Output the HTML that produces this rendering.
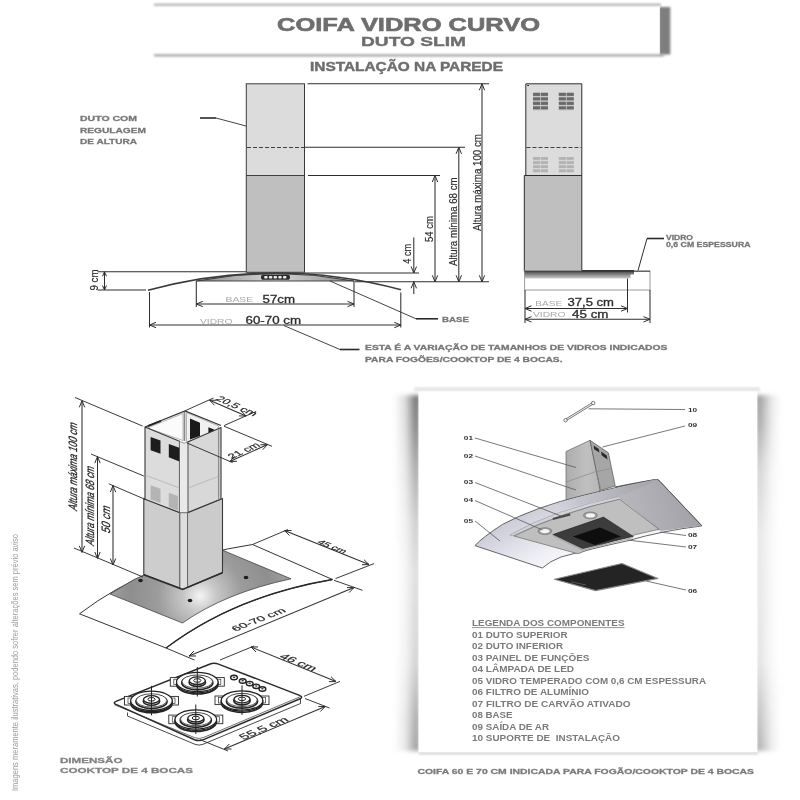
<!DOCTYPE html>
<html lang="pt-BR"><head><meta charset="utf-8"><title>Coifa Vidro Curvo - Duto Slim</title>
<style>
html,body{margin:0;padding:0;background:#fff;}
body{width:800px;height:800px;overflow:hidden;}
svg{display:block;will-change:transform;font-family:"Liberation Sans",Arial,Helvetica,sans-serif;}
</style></head><body>
<svg width="800" height="800" viewBox="0 0 800 800">
<defs>
<filter id="blur2" x="-20%" y="-20%" width="140%" height="140%"><feGaussianBlur stdDeviation="2"/></filter>
<filter id="blur1" x="-20%" y="-20%" width="140%" height="140%"><feGaussianBlur stdDeviation="1"/></filter>
<filter id="blur3" x="-30%" y="-30%" width="160%" height="160%"><feGaussianBlur stdDeviation="3"/></filter>
<filter id="soft2" filterUnits="userSpaceOnUse" x="0" y="0" width="800" height="800"><feGaussianBlur stdDeviation="0.8"/></filter>
<filter id="soft" x="-5%" y="-5%" width="110%" height="110%"><feGaussianBlur stdDeviation="0.35"/></filter>
<linearGradient id="gLeftSh" x1="0" y1="0" x2="0" y2="1"><stop offset="0" stop-color="#636363"/><stop offset="0.08" stop-color="#747474"/><stop offset="0.2" stop-color="#9e9e9e"/><stop offset="0.35" stop-color="#c6c6c6"/><stop offset="0.5" stop-color="#dadada"/><stop offset="0.75" stop-color="#cecece"/><stop offset="0.9" stop-color="#a6a6a6"/><stop offset="1" stop-color="#969696"/></linearGradient>
<linearGradient id="gBase" x1="0" y1="0" x2="1" y2="0"><stop offset="0" stop-color="#8c8c8c"/><stop offset="0.5" stop-color="#d6d6d6"/><stop offset="1" stop-color="#8c8c8c"/></linearGradient>
<linearGradient id="gBand" x1="0" y1="0" x2="0" y2="1"><stop offset="0" stop-color="#444"/><stop offset="0.5" stop-color="#8a8a8a"/><stop offset="1" stop-color="#cfcfcf"/></linearGradient>
<radialGradient id="gIsoBase" gradientUnits="userSpaceOnUse" cx="200" cy="596" r="100"><stop offset="0" stop-color="#f4f4f4"/><stop offset="0.16" stop-color="#c8c8c8"/><stop offset="0.42" stop-color="#9c9c9c"/><stop offset="0.7" stop-color="#8e8e8e"/><stop offset="1" stop-color="#a8a8a8"/></radialGradient>
<linearGradient id="gGlassL" gradientUnits="userSpaceOnUse" x1="520" y1="505" x2="555" y2="568"><stop offset="0" stop-color="#c6c6d2"/><stop offset="0.35" stop-color="#d9d9e4"/><stop offset="0.75" stop-color="#efeff5"/><stop offset="1" stop-color="#f6f6fa"/></linearGradient>
<linearGradient id="gStrip" gradientUnits="userSpaceOnUse" x1="540" y1="0" x2="650" y2="0"><stop offset="0" stop-color="#d4d4df" stop-opacity="0"/><stop offset="0.35" stop-color="#c4c4ce"/><stop offset="0.75" stop-color="#b0b0b7"/><stop offset="1" stop-color="#a6a6ac"/></linearGradient>
<linearGradient id="gGlassR" gradientUnits="userSpaceOnUse" x1="690" y1="505" x2="625" y2="525"><stop offset="0" stop-color="#a3a3a9"/><stop offset="1" stop-color="#b8b8be"/></linearGradient>
<linearGradient id="gDuctL" gradientUnits="userSpaceOnUse" x1="566" y1="0" x2="600" y2="0"><stop offset="0" stop-color="#adadad"/><stop offset="0.6" stop-color="#c0c0c0"/><stop offset="1" stop-color="#b6b6b6"/></linearGradient>
<linearGradient id="gH" gradientUnits="userSpaceOnUse" x1="394" y1="0" x2="419" y2="0"><stop offset="0" stop-color="#000"/><stop offset="0.45" stop-color="#3a3a3a"/><stop offset="0.8" stop-color="#c0c0c0"/><stop offset="1" stop-color="#fff"/></linearGradient>
<mask id="mL" maskUnits="userSpaceOnUse" x="390" y="380" width="40" height="380"><rect x="394" y="385" width="26" height="370" fill="url(#gH)"/></mask>
<linearGradient id="gBotSh" x1="0" y1="0" x2="0" y2="1"><stop offset="0" stop-color="#bdbdbd"/><stop offset="1" stop-color="#ffffff"/></linearGradient>
<linearGradient id="gRightSh" x1="0" y1="0" x2="0" y2="1"><stop offset="0" stop-color="#959595"/><stop offset="0.08" stop-color="#a4a4a4"/><stop offset="0.2" stop-color="#cecece"/><stop offset="0.4" stop-color="#e6e6e6"/><stop offset="0.75" stop-color="#e2e2e2"/><stop offset="0.9" stop-color="#bebebe"/><stop offset="1" stop-color="#adadad"/></linearGradient>
<linearGradient id="gHR" gradientUnits="userSpaceOnUse" x1="757" y1="0" x2="781" y2="0"><stop offset="0" stop-color="#fff"/><stop offset="0.25" stop-color="#b0b0b0"/><stop offset="0.6" stop-color="#383838"/><stop offset="1" stop-color="#000"/></linearGradient>
<mask id="mR" maskUnits="userSpaceOnUse" x="750" y="380" width="40" height="380"><rect x="756" y="385" width="25" height="370" fill="url(#gHR)"/></mask>
</defs>
<rect width="800" height="800" fill="#fff"/>
<rect x="659" y="7" width="11.3" height="47.5" fill="#7e7e7e" filter="url(#blur1)"/>
<rect x="150" y="5" width="509.8" height="50" fill="#fff"/>
<rect x="154" y="3.8" width="507" height="1.8" fill="#a0a0a0" filter="url(#soft2)"/>
<rect x="154" y="54.4" width="510" height="2" fill="#989898" filter="url(#soft2)"/>
<text x="277" y="30.5" font-size="18" fill="#6e6e6e" font-weight="bold" stroke="#6e6e6e" stroke-width="0.6" textLength="263" lengthAdjust="spacingAndGlyphs" >COIFA VIDRO CURVO</text>
<text x="361" y="45.5" font-size="13" fill="#6e6e6e" font-weight="bold" stroke="#6e6e6e" stroke-width="0.4" textLength="105" lengthAdjust="spacingAndGlyphs" >DUTO SLIM</text>
<text x="310" y="70.5" font-size="12" fill="#6e6e6e" font-weight="bold" stroke="#6e6e6e" stroke-width="0.4" textLength="193" lengthAdjust="spacingAndGlyphs" >INSTALAÇÃO NA PAREDE</text>
<rect x="246.3" y="83.8" width="58.2" height="92" fill="#dcdcdc"/>
<rect x="246.3" y="175.5" width="58.2" height="97" fill="#bfbfbf"/>
<rect x="246.3" y="83.8" width="58.2" height="188.5" fill="none" stroke="#3a3a3a" stroke-width="1"/>
<line x1="246.3" y1="175.5" x2="304.5" y2="175.5" stroke="#2e2e2e" stroke-width="0.9" />
<line x1="247" y1="147.5" x2="304" y2="147.5" stroke="#2e2e2e" stroke-width="0.9" stroke-dasharray="4 2"/>
<line x1="307.5" y1="83.8" x2="489" y2="83.8" stroke="#2e2e2e" stroke-width="1.05" />
<line x1="304.5" y1="147.3" x2="465" y2="147.3" stroke="#2e2e2e" stroke-width="1.05" />
<line x1="308" y1="175.5" x2="440" y2="175.5" stroke="#2e2e2e" stroke-width="1.05" />
<line x1="304.5" y1="273" x2="419" y2="273" stroke="#2e2e2e" stroke-width="1.05" />
<line x1="355" y1="281.8" x2="489" y2="281.8" stroke="#2e2e2e" stroke-width="1.05" />
<line x1="482" y1="83.8" x2="482" y2="281.8" stroke="#2e2e2e" stroke-width="1.05" />
<polyline points="484.7,90.3 482,83.8 479.3,90.3" fill="none" stroke="#2e2e2e" stroke-width="1.0" />
<polyline points="479.3,275.3 482,281.8 484.7,275.3" fill="none" stroke="#2e2e2e" stroke-width="1.0" />
<line x1="458.8" y1="147.3" x2="458.8" y2="281.8" stroke="#2e2e2e" stroke-width="1.05" />
<polyline points="461.5,153.8 458.8,147.3 456.1,153.8" fill="none" stroke="#2e2e2e" stroke-width="1.0" />
<polyline points="456.1,275.3 458.8,281.8 461.5,275.3" fill="none" stroke="#2e2e2e" stroke-width="1.0" />
<line x1="435" y1="175.5" x2="435" y2="281.8" stroke="#2e2e2e" stroke-width="1.05" />
<polyline points="437.7,182.0 435,175.5 432.3,182.0" fill="none" stroke="#2e2e2e" stroke-width="1.0" />
<polyline points="432.3,275.3 435,281.8 437.7,275.3" fill="none" stroke="#2e2e2e" stroke-width="1.0" />
<line x1="413.8" y1="237.5" x2="413.8" y2="273" stroke="#2e2e2e" stroke-width="1.05" />
<polyline points="411.1,266.5 413.8,273 416.5,266.5" fill="none" stroke="#2e2e2e" stroke-width="1.0" />
<line x1="413.8" y1="281.8" x2="413.8" y2="294" stroke="#2e2e2e" stroke-width="1.05" />
<polyline points="416.5,288.3 413.8,281.8 411.1,288.3" fill="none" stroke="#2e2e2e" stroke-width="1.0" />
<text x="480.5" y="231" font-size="11" fill="#2e2e2e" textLength="97" lengthAdjust="spacingAndGlyphs" transform="rotate(-90 480.5 231)" stroke="#2e2e2e" stroke-width="0.2">Altura máxima 100 cm</text>
<text x="456.5" y="266" font-size="11" fill="#2e2e2e" textLength="88.5" lengthAdjust="spacingAndGlyphs" transform="rotate(-90 456.5 266)" stroke="#2e2e2e" stroke-width="0.2">Altura mínima 68 cm</text>
<text x="433" y="242" font-size="11" fill="#2e2e2e" textLength="26" lengthAdjust="spacingAndGlyphs" transform="rotate(-90 433 242)" stroke="#2e2e2e" stroke-width="0.2">54 cm</text>
<text x="411" y="263.8" font-size="11" fill="#2e2e2e" textLength="20" lengthAdjust="spacingAndGlyphs" transform="rotate(-90 411 263.8)" stroke="#2e2e2e" stroke-width="0.2">4 cm</text>
<text x="80" y="121" font-size="8" fill="#777" font-weight="bold" stroke="#777" stroke-width="0.28" textLength="57" lengthAdjust="spacingAndGlyphs" >DUTO COM</text>
<text x="80" y="132.7" font-size="8" fill="#777" font-weight="bold" stroke="#777" stroke-width="0.28" textLength="66" lengthAdjust="spacingAndGlyphs" >REGULAGEM</text>
<text x="80" y="144.3" font-size="8" fill="#777" font-weight="bold" stroke="#777" stroke-width="0.28" textLength="57" lengthAdjust="spacingAndGlyphs" >DE ALTURA</text>
<line x1="200" y1="118" x2="216" y2="118" stroke="#2a2a2a" stroke-width="1.6" />
<line x1="216" y1="118" x2="246" y2="126" stroke="#2e2e2e" stroke-width="0.9" />
<line x1="97.5" y1="271.8" x2="246" y2="271.8" stroke="#2e2e2e" stroke-width="1.05" />
<line x1="97.5" y1="290" x2="146" y2="290" stroke="#2e2e2e" stroke-width="1.05" />
<line x1="104.5" y1="272" x2="104.5" y2="290" stroke="#2e2e2e" stroke-width="1.05" />
<polyline points="106.5,276.3 104.5,271.8 102.5,276.3" fill="none" stroke="#2e2e2e" stroke-width="1.0" />
<polyline points="102.5,285.5 104.5,290 106.5,285.5" fill="none" stroke="#2e2e2e" stroke-width="1.0" />
<text x="97.5" y="290.5" font-size="11.5" fill="#2e2e2e" textLength="21" lengthAdjust="spacingAndGlyphs" transform="rotate(-90 97.5 290.5)" stroke="#2e2e2e" stroke-width="0.2">9 cm</text>
<path d="M196.3,281 Q275,266 354,281 Z" fill="url(#gBase)" stroke="#333" stroke-width="0.9" />
<rect x="261" y="274.6" width="29" height="5.2" rx="2.6" fill="#2b2b2b"/>
<rect x="264.2" y="275.9" width="3.4" height="2.6" rx="0.8" fill="#e8e8e8"/>
<rect x="268.9" y="275.9" width="3.4" height="2.6" rx="0.8" fill="#e8e8e8"/>
<rect x="273.59999999999997" y="275.9" width="3.4" height="2.6" rx="0.8" fill="#e8e8e8"/>
<rect x="278.3" y="275.9" width="3.4" height="2.6" rx="0.8" fill="#e8e8e8"/>
<rect x="283.0" y="275.9" width="3.4" height="2.6" rx="0.8" fill="#e8e8e8"/>
<path d="M148,290.3 Q275,256 401,289.8" fill="none" stroke="#3a3a3a" stroke-width="1.7" />
<line x1="196.3" y1="281" x2="196.3" y2="307" stroke="#2e2e2e" stroke-width="1.05" />
<line x1="354" y1="281" x2="354" y2="307" stroke="#2e2e2e" stroke-width="1.05" />
<line x1="196.3" y1="304" x2="354" y2="304" stroke="#2e2e2e" stroke-width="1.05" />
<polyline points="202.8,301.3 196.3,304 202.8,306.7" fill="none" stroke="#2e2e2e" stroke-width="1.0" />
<polyline points="347.5,306.7 354,304 347.5,301.3" fill="none" stroke="#2e2e2e" stroke-width="1.0" />
<text x="225.5" y="302.3" font-size="8" fill="#a8a8a8" textLength="27.5" lengthAdjust="spacingAndGlyphs" >BASE</text>
<text x="262.5" y="303" font-size="10.5" fill="#2c2c2c" textLength="32.5" lengthAdjust="spacingAndGlyphs" stroke="#2c2c2c" stroke-width="0.3">57cm</text>
<line x1="149.5" y1="292" x2="149.5" y2="327.5" stroke="#2e2e2e" stroke-width="1.05" />
<line x1="400.8" y1="292.5" x2="400.8" y2="327.5" stroke="#2e2e2e" stroke-width="1.05" />
<line x1="149.5" y1="325" x2="400.8" y2="325" stroke="#2e2e2e" stroke-width="1.05" />
<polyline points="156.0,322.3 149.5,325 156.0,327.7" fill="none" stroke="#2e2e2e" stroke-width="1.0" />
<polyline points="394.3,327.7 400.8,325 394.3,322.3" fill="none" stroke="#2e2e2e" stroke-width="1.0" />
<text x="200" y="323.5" font-size="8" fill="#a8a8a8" textLength="32.5" lengthAdjust="spacingAndGlyphs" >VIDRO</text>
<text x="245.5" y="323.5" font-size="10.5" fill="#2c2c2c" textLength="55.5" lengthAdjust="spacingAndGlyphs" stroke="#2c2c2c" stroke-width="0.3">60-70 cm</text>
<line x1="283.8" y1="325.5" x2="340" y2="349.5" stroke="#2e2e2e" stroke-width="0.9" />
<line x1="340" y1="349.5" x2="359.5" y2="349.5" stroke="#2a2a2a" stroke-width="1.6" />
<text x="365" y="350.3" font-size="7.5" fill="#777" font-weight="bold" stroke="#777" stroke-width="0.28" textLength="302.5" lengthAdjust="spacingAndGlyphs" >ESTA É A VARIAÇÃO DE TAMANHOS DE VIDROS INDICADOS</text>
<text x="365" y="362" font-size="7.5" fill="#777" font-weight="bold" stroke="#777" stroke-width="0.28" textLength="197.5" lengthAdjust="spacingAndGlyphs" >PARA FOGÕES/COOKTOP DE 4 BOCAS.</text>
<polyline points="330,281 416,318.8" fill="none" stroke="#2e2e2e" stroke-width="0.9" />
<line x1="416" y1="318.8" x2="438" y2="318.8" stroke="#2a2a2a" stroke-width="1.6" />
<text x="442" y="321.8" font-size="8" fill="#777" font-weight="bold" stroke="#777" stroke-width="0.28" textLength="27" lengthAdjust="spacingAndGlyphs" >BASE</text>
<rect x="525.8" y="83.8" width="56" height="92" fill="#dcdcdc"/>
<rect x="524.3" y="175.5" width="57.5" height="96" fill="#bfbfbf"/>
<polyline points="525.8,175.5 525.8,83.8 581.8,83.8 581.8,271.5" fill="none" stroke="#2e2e2e" stroke-width="1" />
<polyline points="581.8,175.5 524.3,175.5 524.3,271.5" fill="none" stroke="#2e2e2e" stroke-width="1" />
<line x1="526.5" y1="147.5" x2="581.5" y2="147.5" stroke="#2e2e2e" stroke-width="0.9" stroke-dasharray="4 2"/>
<rect x="527.2" y="85" width="1.8" height="1" fill="#222"/>
<rect x="533" y="92.5" width="15" height="18" fill="#c9c9c9"/>
<rect x="533" y="92.8" width="7.1" height="3.1" fill="#6a6a6a"/>
<rect x="540.9" y="92.8" width="7.1" height="3.1" fill="#6a6a6a"/>
<rect x="533" y="97.3" width="7.1" height="3.1" fill="#6a6a6a"/>
<rect x="540.9" y="97.3" width="7.1" height="3.1" fill="#6a6a6a"/>
<rect x="533" y="101.8" width="7.1" height="3.1" fill="#6a6a6a"/>
<rect x="540.9" y="101.8" width="7.1" height="3.1" fill="#6a6a6a"/>
<rect x="533" y="106.3" width="7.1" height="3.1" fill="#6a6a6a"/>
<rect x="540.9" y="106.3" width="7.1" height="3.1" fill="#6a6a6a"/>
<rect x="558.8" y="92.5" width="15" height="18" fill="#c9c9c9"/>
<rect x="558.8" y="92.8" width="7.1" height="3.1" fill="#6a6a6a"/>
<rect x="566.7" y="92.8" width="7.1" height="3.1" fill="#6a6a6a"/>
<rect x="558.8" y="97.3" width="7.1" height="3.1" fill="#6a6a6a"/>
<rect x="566.7" y="97.3" width="7.1" height="3.1" fill="#6a6a6a"/>
<rect x="558.8" y="101.8" width="7.1" height="3.1" fill="#6a6a6a"/>
<rect x="566.7" y="101.8" width="7.1" height="3.1" fill="#6a6a6a"/>
<rect x="558.8" y="106.3" width="7.1" height="3.1" fill="#6a6a6a"/>
<rect x="566.7" y="106.3" width="7.1" height="3.1" fill="#6a6a6a"/>
<rect x="533" y="156.8" width="15" height="16.4" fill="#d6d6d6"/>
<rect x="533" y="157.1" width="7.1" height="2.7" fill="#b2b2b2"/>
<rect x="540.9" y="157.1" width="7.1" height="2.7" fill="#b2b2b2"/>
<rect x="533" y="161.2" width="7.1" height="2.7" fill="#b2b2b2"/>
<rect x="540.9" y="161.2" width="7.1" height="2.7" fill="#b2b2b2"/>
<rect x="533" y="165.3" width="7.1" height="2.7" fill="#b2b2b2"/>
<rect x="540.9" y="165.3" width="7.1" height="2.7" fill="#b2b2b2"/>
<rect x="533" y="169.4" width="7.1" height="2.7" fill="#b2b2b2"/>
<rect x="540.9" y="169.4" width="7.1" height="2.7" fill="#b2b2b2"/>
<rect x="558.8" y="156.8" width="15" height="16.4" fill="#d6d6d6"/>
<rect x="558.8" y="157.1" width="7.1" height="2.7" fill="#b2b2b2"/>
<rect x="566.7" y="157.1" width="7.1" height="2.7" fill="#b2b2b2"/>
<rect x="558.8" y="161.2" width="7.1" height="2.7" fill="#b2b2b2"/>
<rect x="566.7" y="161.2" width="7.1" height="2.7" fill="#b2b2b2"/>
<rect x="558.8" y="165.3" width="7.1" height="2.7" fill="#b2b2b2"/>
<rect x="566.7" y="165.3" width="7.1" height="2.7" fill="#b2b2b2"/>
<rect x="558.8" y="169.4" width="7.1" height="2.7" fill="#b2b2b2"/>
<rect x="566.7" y="169.4" width="7.1" height="2.7" fill="#b2b2b2"/>
<rect x="524.6" y="271" width="125.4" height="19" fill="#fff" stroke="#9a9a9a" stroke-width="1"/>
<path d="M524.6,271 H634 V274.5 H630.5 V278.6 H524.6 Z" fill="url(#gBand)" stroke="none" stroke-width="0.8" />
<line x1="524.6" y1="271.2" x2="650" y2="271.2" stroke="#444" stroke-width="1.1" />
<line x1="582" y1="270.8" x2="634" y2="270.8" stroke="#333" stroke-width="1.6" />
<line x1="525" y1="290" x2="525" y2="323" stroke="#2e2e2e" stroke-width="1.05" />
<line x1="627.5" y1="278.6" x2="627.5" y2="312.5" stroke="#2e2e2e" stroke-width="1.05" />
<line x1="650" y1="290" x2="650" y2="323" stroke="#2e2e2e" stroke-width="1.05" />
<line x1="525" y1="308.5" x2="627.5" y2="308.5" stroke="#2e2e2e" stroke-width="1.05" />
<polyline points="531.5,305.8 525,308.5 531.5,311.2" fill="none" stroke="#2e2e2e" stroke-width="1.0" />
<polyline points="621.0,311.2 627.5,308.5 621.0,305.8" fill="none" stroke="#2e2e2e" stroke-width="1.0" />
<line x1="525" y1="319.3" x2="650" y2="319.3" stroke="#2e2e2e" stroke-width="1.05" />
<polyline points="531.5,316.6 525,319.3 531.5,322.0" fill="none" stroke="#2e2e2e" stroke-width="1.0" />
<polyline points="643.5,322.0 650,319.3 643.5,316.6" fill="none" stroke="#2e2e2e" stroke-width="1.0" />
<text x="535.3" y="305.5" font-size="8" fill="#a8a8a8" textLength="27" lengthAdjust="spacingAndGlyphs" >BASE</text>
<text x="567.5" y="305.8" font-size="10.5" fill="#2c2c2c" textLength="46.5" lengthAdjust="spacingAndGlyphs" stroke="#2c2c2c" stroke-width="0.3">37,5 cm</text>
<text x="533" y="317.3" font-size="8" fill="#a8a8a8" textLength="32.5" lengthAdjust="spacingAndGlyphs" >VIDRO</text>
<text x="572" y="317.6" font-size="10.5" fill="#2c2c2c" textLength="36.5" lengthAdjust="spacingAndGlyphs" stroke="#2c2c2c" stroke-width="0.3">45 cm</text>
<line x1="647" y1="238.5" x2="664" y2="238.5" stroke="#2a2a2a" stroke-width="1.6" />
<line x1="647" y1="238.5" x2="638" y2="270.5" stroke="#2e2e2e" stroke-width="1" />
<text x="666" y="239.6" font-size="7" fill="#777" font-weight="bold" stroke="#777" stroke-width="0.28" textLength="27" lengthAdjust="spacingAndGlyphs" >VIDRO</text>
<text x="666" y="247.2" font-size="7" fill="#777" font-weight="bold" stroke="#777" stroke-width="0.28" textLength="84.5" lengthAdjust="spacingAndGlyphs" >0,6 CM ESPESSURA</text>
<path d="M79.5,613.8 Q150,560 252.5,544.5 L332.5,579.5 Q235,596 166,648 Z" fill="#fff" stroke="#333" stroke-width="1" />
<path d="M332.5,579.5 Q235,596 166,648" fill="none" stroke="#2a2a2a" stroke-width="1.3" />
<path d="M110,594 Q155,563 222,550 L291,578.8 Q225,593 182.5,623 Z" fill="url(#gIsoBase)" stroke="#444" stroke-width="0.8" />
<ellipse cx="140.5" cy="580.5" rx="2.3" ry="1.8" fill="#1c1c1c"/>
<ellipse cx="190" cy="600.5" rx="2.3" ry="1.8" fill="#1c1c1c"/>
<ellipse cx="246" cy="577.5" rx="2.3" ry="1.8" fill="#1c1c1c"/>
<polygon points="143.8,498.3 180,512.8 180,588 143.8,574.5" fill="#cdcdcd" stroke="#383838" stroke-width="1.1" stroke-linejoin="round" />
<polygon points="187.5,512.8 222.5,498.5 222.5,572.5 187.5,587.5" fill="#cbcbcb" stroke="#383838" stroke-width="1.1" stroke-linejoin="round" />
<polygon points="180,512.8 187.5,512.8 187.5,587.5 184,589.3 180,588" fill="#dedede" stroke="#555" stroke-width="0.6" stroke-linejoin="round" />
<polyline points="143.8,574.8 182.5,589.4 222.5,572.8" fill="none" stroke="#2e2e2e" stroke-width="1.6" />
<polygon points="145,427 185,411 221,425.5 184,441.3" fill="#f4f4f4" stroke="none" stroke-width="0.8" stroke-linejoin="round" />
<polygon points="147.5,428 183,413.5 183,440.5" fill="#fbfbfb" stroke="#777" stroke-width="0.5" stroke-linejoin="round" />
<polygon points="186.5,412.5 218.5,426 218.5,431 186.5,442" fill="#f0f0f0" stroke="#777" stroke-width="0.5" stroke-linejoin="round" />
<polygon points="190,418.5 200,422.7 200,436 190,439.5" fill="#1a1a1a" stroke="none" stroke-width="0.8" stroke-linejoin="round" />
<polygon points="208.4,427.2 214,429.6 214,431.8 208.4,433.8" fill="#1a1a1a" stroke="none" stroke-width="0.8" stroke-linejoin="round" />
<line x1="184.5" y1="411.5" x2="184.5" y2="441" stroke="#8a8a8a" stroke-width="1.6" />
<polygon points="145,427 179.5,441.3 179.5,512.5 145,499.3" fill="#dcdcdc" stroke="#383838" stroke-width="1.1" stroke-linejoin="round" />
<polygon points="187.8,442 221,427.5 221,499 187.8,512.5" fill="#d8d8d8" stroke="#383838" stroke-width="1.1" stroke-linejoin="round" />
<polygon points="179.5,441.3 184,443.2 187.8,442 187.8,512.5 179.5,512.5" fill="#e9e9e9" stroke="#555" stroke-width="0.6" stroke-linejoin="round" />
<line x1="218.6" y1="429" x2="218.6" y2="499.5" stroke="#8f8f8f" stroke-width="1.3" />
<polyline points="145,427 185,411 221,425.5" fill="none" stroke="#333" stroke-width="1.2" />
<polyline points="147.8,426.2 161,420.8" fill="none" stroke="#222" stroke-width="1.8" />
<line x1="145" y1="475" x2="179.5" y2="488" stroke="#a5a5a5" stroke-width="0.6" />
<line x1="187.8" y1="488" x2="221" y2="475.5" stroke="#a5a5a5" stroke-width="0.6" />
<polygon points="150.6,436.9 160.5,440.4 160.5,453.8 150.6,450.2" fill="#1d1d1d" stroke="none" stroke-width="0.8" stroke-linejoin="round" />
<polygon points="168.8,444 179.3,447.8 179.3,461.4 168.8,457.2" fill="#1d1d1d" stroke="none" stroke-width="0.8" stroke-linejoin="round" />
<polygon points="150.6,485.3 160.5,488.8 160.5,503 150.6,499.5" fill="#b4b4b4" stroke="none" stroke-width="0.8" stroke-linejoin="round" />
<polygon points="168.8,492.8 178,496 178,510.5 168.8,507.2" fill="#b4b4b4" stroke="none" stroke-width="0.8" stroke-linejoin="round" />
<line x1="75" y1="397.5" x2="142.5" y2="426" stroke="#2e2e2e" stroke-width="0.95" />
<line x1="74" y1="548" x2="143" y2="577" stroke="#2e2e2e" stroke-width="0.95" />
<line x1="82" y1="401" x2="82" y2="552.5" stroke="#2e2e2e" stroke-width="1.05" />
<polyline points="84.7,407.3 82,400.8 79.3,407.3" fill="none" stroke="#2e2e2e" stroke-width="1.0" />
<polyline points="79.3,545.8 82,552.3 84.7,545.8" fill="none" stroke="#2e2e2e" stroke-width="1.0" />
<line x1="91" y1="454" x2="143.8" y2="476" stroke="#2e2e2e" stroke-width="0.95" />
<line x1="97.5" y1="456" x2="97.5" y2="557.5" stroke="#2e2e2e" stroke-width="1.05" />
<polyline points="100.2,463.1 97.5,456.6 94.8,463.1" fill="none" stroke="#2e2e2e" stroke-width="1.0" />
<polyline points="94.8,552.0 97.5,558.5 100.2,552.0" fill="none" stroke="#2e2e2e" stroke-width="1.0" />
<line x1="108.8" y1="483.8" x2="143.8" y2="498.8" stroke="#2e2e2e" stroke-width="0.95" />
<line x1="113" y1="485" x2="113" y2="563.8" stroke="#2e2e2e" stroke-width="1.05" />
<polyline points="115.7,492.1 113,485.6 110.3,492.1" fill="none" stroke="#2e2e2e" stroke-width="1.0" />
<polyline points="110.3,558.5 113,565 115.7,558.5" fill="none" stroke="#2e2e2e" stroke-width="1.0" />
<text x="0" y="0" font-size="13" fill="#262626" textLength="87.5" lengthAdjust="spacingAndGlyphs" transform="matrix(0.000,-1.000,0.933,0.361,77.2,511.5)" stroke="#262626" stroke-width="0.3">Altura máxima 100 cm</text>
<text x="0" y="0" font-size="13" fill="#262626" textLength="79" lengthAdjust="spacingAndGlyphs" transform="matrix(0.000,-1.000,0.933,0.361,93.6,546.5)" stroke="#262626" stroke-width="0.3">Altura mínima 68 cm</text>
<text x="0" y="0" font-size="13" fill="#262626" textLength="27" lengthAdjust="spacingAndGlyphs" transform="matrix(0.000,-1.000,0.933,0.361,110,534)" stroke="#262626" stroke-width="0.3">50 cm</text>
<line x1="185" y1="410.8" x2="213.5" y2="398" stroke="#2e2e2e" stroke-width="0.95" />
<line x1="224.2" y1="425.5" x2="256.2" y2="411.4" stroke="#2e2e2e" stroke-width="0.95" />
<line x1="209.6" y1="400.2" x2="246.1" y2="416" stroke="#2e2e2e" stroke-width="1.05" />
<polyline points="216.64,400.3 209.6,400.2 214.49,405.26" fill="none" stroke="#2e2e2e" stroke-width="1.0" />
<polyline points="239.06,415.9 246.1,416 241.21,410.94" fill="none" stroke="#2e2e2e" stroke-width="1.0" />
<text x="0" y="0" font-size="9.5" fill="#2a2a2a" textLength="42" lengthAdjust="spacingAndGlyphs" transform="matrix(0.914,0.405,-0.800,0.600,215,399.6)" stroke="#2a2a2a" stroke-width="0.25">20,5 cm</text>
<line x1="224" y1="426.2" x2="272" y2="446.3" stroke="#2e2e2e" stroke-width="0.95" />
<line x1="187" y1="443" x2="232.6" y2="462.6" stroke="#2e2e2e" stroke-width="0.95" />
<line x1="229.8" y1="461.5" x2="267.5" y2="444.6" stroke="#2e2e2e" stroke-width="1.05" />
<polyline points="234.63,456.38 229.8,461.5 236.84,461.31" fill="none" stroke="#2e2e2e" stroke-width="1.0" />
<polyline points="262.67,449.72 267.5,444.6 260.46,444.79" fill="none" stroke="#2e2e2e" stroke-width="1.0" />
<text x="0" y="0" font-size="9.5" fill="#2a2a2a" textLength="32" lengthAdjust="spacingAndGlyphs" transform="matrix(0.909,-0.416,0.800,0.600,231.8,459.2)" stroke="#2a2a2a" stroke-width="0.25">21 cm</text>
<line x1="252.5" y1="544.5" x2="288" y2="529.5" stroke="#2e2e2e" stroke-width="0.95" />
<line x1="335.5" y1="578.6" x2="374" y2="563.6" stroke="#2e2e2e" stroke-width="0.95" />
<line x1="284.5" y1="530.6" x2="369" y2="564.6" stroke="#2e2e2e" stroke-width="1.05" />
<polyline points="291.54,530.52 284.5,530.6 289.52,535.53" fill="none" stroke="#2e2e2e" stroke-width="1.0" />
<polyline points="361.96,564.68 369,564.6 363.98,559.67" fill="none" stroke="#2e2e2e" stroke-width="1.0" />
<text x="0" y="0" font-size="8.5" fill="#2a2a2a" textLength="29" lengthAdjust="spacingAndGlyphs" transform="matrix(0.927,0.375,-0.800,0.600,316.5,543)" stroke="#2a2a2a" stroke-width="0.25">45 cm</text>
<line x1="166" y1="648" x2="194.5" y2="660" stroke="#2e2e2e" stroke-width="0.95" />
<line x1="334" y1="580.3" x2="362.5" y2="590.3" stroke="#2e2e2e" stroke-width="0.95" />
<line x1="189" y1="656" x2="354" y2="587.6" stroke="#2e2e2e" stroke-width="1.05" />
<polyline points="193.97,651.02 189,656 196.04,656.01" fill="none" stroke="#2e2e2e" stroke-width="1.0" />
<polyline points="349.03,592.58 354,587.6 346.96,587.59" fill="none" stroke="#2e2e2e" stroke-width="1.0" />
<text x="0" y="0" font-size="9.5" fill="#2a2a2a" textLength="55" lengthAdjust="spacingAndGlyphs" transform="matrix(0.931,-0.364,0.800,0.600,235.5,631.5)" stroke="#2a2a2a" stroke-width="0.25">60-70 cm</text>
<path d="M127.5,712.5 V716 L195,744.3 Q199,746 203,744.3 L300.5,703.5 V699" fill="#fff" stroke="#333" stroke-width="0.9" />
<path d="M116.5,704.6 Q112,702.9 116.5,701.1 L209.5,664.2 Q214,662.4 218.5,664.1 L299.5,695.4 Q304,697.2 299.5,699 L203.5,739.6 Q199,741.5 194.5,739.7 Z" fill="#fff" stroke="#2a2a2a" stroke-width="1.5" />
<path d="M114.5,704.8 L194.5,737.6 Q199,739.4 203.5,737.5 L300.5,696.6" fill="none" stroke="#333" stroke-width="0.7" />
<rect x="170.3" y="677.6" width="54" height="8.6" fill="#fff" stroke="#2a2a2a" stroke-width="0.9"/>
<rect x="173.8" y="679.2" width="6" height="5.4" fill="none" stroke="#333" stroke-width="0.7"/>
<rect x="214.8" y="679.2" width="6" height="5.4" fill="none" stroke="#333" stroke-width="0.7"/>
<ellipse cx="197.3" cy="684.6" rx="20.6" ry="9.4" fill="#fff" stroke="#222" stroke-width="1.6"/>
<ellipse cx="197.3" cy="683.2" rx="20.8" ry="9.6" fill="#fff" stroke="#222" stroke-width="1.3"/>
<ellipse cx="197.3" cy="682" rx="20.8" ry="9.6" fill="#fff" stroke="#222" stroke-width="1.2"/>
<ellipse cx="197.3" cy="682.8" rx="15.5" ry="7" fill="#fff" stroke="#222" stroke-width="1.7"/>
<ellipse cx="197.3" cy="681.6" rx="15.3" ry="6.6" fill="#fff" stroke="#333" stroke-width="0.8"/>
<ellipse cx="197.3" cy="682.4" rx="8.2" ry="4.1" fill="#fff" stroke="#222" stroke-width="1.6"/>
<ellipse cx="197.3" cy="680.7" rx="8" ry="3.8" fill="#fff" stroke="#222" stroke-width="1.3"/>
<ellipse cx="197.3" cy="680.5" rx="3.6" ry="1.8" fill="#fff" stroke="#222" stroke-width="1"/>
<line x1="197.3" y1="667" x2="197.3" y2="696.5" stroke="#222" stroke-width="1" />
<rect x="124.5" y="696.4" width="54" height="8.6" fill="#fff" stroke="#2a2a2a" stroke-width="0.9"/>
<rect x="128.0" y="698.0" width="6" height="5.4" fill="none" stroke="#333" stroke-width="0.7"/>
<rect x="169.0" y="698.0" width="6" height="5.4" fill="none" stroke="#333" stroke-width="0.7"/>
<ellipse cx="151.5" cy="703.4" rx="20.6" ry="9.4" fill="#fff" stroke="#222" stroke-width="1.6"/>
<ellipse cx="151.5" cy="702.0" rx="20.8" ry="9.6" fill="#fff" stroke="#222" stroke-width="1.3"/>
<ellipse cx="151.5" cy="700.8" rx="20.8" ry="9.6" fill="#fff" stroke="#222" stroke-width="1.2"/>
<ellipse cx="151.5" cy="701.5999999999999" rx="15.5" ry="7" fill="#fff" stroke="#222" stroke-width="1.7"/>
<ellipse cx="151.5" cy="700.4" rx="15.3" ry="6.6" fill="#fff" stroke="#333" stroke-width="0.8"/>
<ellipse cx="151.5" cy="701.1999999999999" rx="8.2" ry="4.1" fill="#fff" stroke="#222" stroke-width="1.6"/>
<ellipse cx="151.5" cy="699.5" rx="8" ry="3.8" fill="#fff" stroke="#222" stroke-width="1.3"/>
<ellipse cx="151.5" cy="699.3" rx="3.6" ry="1.8" fill="#fff" stroke="#222" stroke-width="1"/>
<line x1="151.5" y1="685.8" x2="151.5" y2="715.3" stroke="#222" stroke-width="1" />
<rect x="215" y="696.0" width="54" height="8.6" fill="#fff" stroke="#2a2a2a" stroke-width="0.9"/>
<rect x="218.5" y="697.6" width="6" height="5.4" fill="none" stroke="#333" stroke-width="0.7"/>
<rect x="259.5" y="697.6" width="6" height="5.4" fill="none" stroke="#333" stroke-width="0.7"/>
<ellipse cx="242" cy="703.0" rx="20.6" ry="9.4" fill="#fff" stroke="#222" stroke-width="1.6"/>
<ellipse cx="242" cy="701.6" rx="20.8" ry="9.6" fill="#fff" stroke="#222" stroke-width="1.3"/>
<ellipse cx="242" cy="700.4" rx="20.8" ry="9.6" fill="#fff" stroke="#222" stroke-width="1.2"/>
<ellipse cx="242" cy="701.1999999999999" rx="15.5" ry="7" fill="#fff" stroke="#222" stroke-width="1.7"/>
<ellipse cx="242" cy="700.0" rx="15.3" ry="6.6" fill="#fff" stroke="#333" stroke-width="0.8"/>
<ellipse cx="242" cy="700.8" rx="8.2" ry="4.1" fill="#fff" stroke="#222" stroke-width="1.6"/>
<ellipse cx="242" cy="699.1" rx="8" ry="3.8" fill="#fff" stroke="#222" stroke-width="1.3"/>
<ellipse cx="242" cy="698.9" rx="3.6" ry="1.8" fill="#fff" stroke="#222" stroke-width="1"/>
<line x1="242" y1="685.4" x2="242" y2="714.9" stroke="#222" stroke-width="1" />
<rect x="168.8" y="715.1" width="54" height="8.6" fill="#fff" stroke="#2a2a2a" stroke-width="0.9"/>
<rect x="172.3" y="716.7" width="6" height="5.4" fill="none" stroke="#333" stroke-width="0.7"/>
<rect x="213.3" y="716.7" width="6" height="5.4" fill="none" stroke="#333" stroke-width="0.7"/>
<ellipse cx="195.8" cy="722.1" rx="20.6" ry="9.4" fill="#fff" stroke="#222" stroke-width="1.6"/>
<ellipse cx="195.8" cy="720.7" rx="20.8" ry="9.6" fill="#fff" stroke="#222" stroke-width="1.3"/>
<ellipse cx="195.8" cy="719.5" rx="20.8" ry="9.6" fill="#fff" stroke="#222" stroke-width="1.2"/>
<ellipse cx="195.8" cy="720.3" rx="15.5" ry="7" fill="#fff" stroke="#222" stroke-width="1.7"/>
<ellipse cx="195.8" cy="719.1" rx="15.3" ry="6.6" fill="#fff" stroke="#333" stroke-width="0.8"/>
<ellipse cx="195.8" cy="719.9" rx="8.2" ry="4.1" fill="#fff" stroke="#222" stroke-width="1.6"/>
<ellipse cx="195.8" cy="718.2" rx="8" ry="3.8" fill="#fff" stroke="#222" stroke-width="1.3"/>
<ellipse cx="195.8" cy="718.0" rx="3.6" ry="1.8" fill="#fff" stroke="#222" stroke-width="1"/>
<line x1="195.8" y1="704.5" x2="195.8" y2="734.0" stroke="#222" stroke-width="1" />
<ellipse cx="234" cy="677.5" rx="3.4" ry="2.2" fill="#fff" stroke="#222" stroke-width="1.4"/>
<ellipse cx="234" cy="677.2" rx="1.3" ry="0.8" fill="#333"/>
<ellipse cx="242.7" cy="681" rx="3.4" ry="2.2" fill="#fff" stroke="#222" stroke-width="1.4"/>
<ellipse cx="242.7" cy="680.7" rx="1.3" ry="0.8" fill="#333"/>
<ellipse cx="249.7" cy="683.6" rx="3.4" ry="2.2" fill="#fff" stroke="#222" stroke-width="1.4"/>
<ellipse cx="249.7" cy="683.3000000000001" rx="1.3" ry="0.8" fill="#333"/>
<ellipse cx="256.2" cy="686.3" rx="3.4" ry="2.2" fill="#fff" stroke="#222" stroke-width="1.4"/>
<ellipse cx="256.2" cy="686.0" rx="1.3" ry="0.8" fill="#333"/>
<ellipse cx="262.4" cy="689" rx="3.4" ry="2.2" fill="#fff" stroke="#222" stroke-width="1.4"/>
<ellipse cx="262.4" cy="688.7" rx="1.3" ry="0.8" fill="#333"/>
<line x1="220" y1="660" x2="254" y2="646" stroke="#2e2e2e" stroke-width="0.95" />
<line x1="304" y1="696.3" x2="340" y2="681.4" stroke="#2e2e2e" stroke-width="0.95" />
<line x1="251" y1="647" x2="336" y2="681.6" stroke="#2e2e2e" stroke-width="1.05" />
<polyline points="258.04,646.96 251,647 256.0,651.96" fill="none" stroke="#2e2e2e" stroke-width="1.0" />
<polyline points="328.96,681.64 336,681.6 331.0,676.64" fill="none" stroke="#2e2e2e" stroke-width="1.0" />
<text x="0" y="0" font-size="10.5" fill="#2a2a2a" textLength="37" lengthAdjust="spacingAndGlyphs" transform="matrix(0.926,0.377,-0.800,0.600,278.5,657.5)" stroke="#2a2a2a" stroke-width="0.25">46 cm</text>
<line x1="200" y1="739.6" x2="228" y2="751" stroke="#2e2e2e" stroke-width="0.95" />
<line x1="305" y1="698.5" x2="329.5" y2="708" stroke="#2e2e2e" stroke-width="0.95" />
<line x1="224.4" y1="749" x2="325.3" y2="706.5" stroke="#2e2e2e" stroke-width="1.05" />
<polyline points="229.35,743.99 224.4,749 231.44,748.97" fill="none" stroke="#2e2e2e" stroke-width="1.0" />
<polyline points="320.35,711.51 325.3,706.5 318.26,706.53" fill="none" stroke="#2e2e2e" stroke-width="1.0" />
<text x="0" y="0" font-size="10.5" fill="#2a2a2a" textLength="50" lengthAdjust="spacingAndGlyphs" transform="matrix(0.922,-0.388,0.800,0.600,243.5,740)" stroke="#2a2a2a" stroke-width="0.25">55,5 cm</text>
<text x="60" y="762.5" font-size="8" fill="#828282" font-weight="bold" stroke="#828282" stroke-width="0.28" textLength="62.5" lengthAdjust="spacingAndGlyphs" >DIMENSÃO</text>
<text x="60" y="773" font-size="8" fill="#828282" font-weight="bold" stroke="#828282" stroke-width="0.28" textLength="133" lengthAdjust="spacingAndGlyphs" >COOKTOP DE 4 BOCAS</text>
<text x="17.6" y="791" font-size="8.2" fill="#9c9c9c" textLength="257" lengthAdjust="spacingAndGlyphs" transform="rotate(-90 17.6 791)" >Imagens meramente ilustrativas, podendo sofrer alterações sem prévio aviso</text>
<g filter="url(#blur2)"><rect x="394" y="395" width="25.5" height="356" fill="url(#gLeftSh)" mask="url(#mL)"/></g>
<g filter="url(#blur2)"><rect x="756" y="395" width="25" height="356" fill="url(#gRightSh)" mask="url(#mR)"/></g>
<rect x="414" y="387.2" width="346" height="4.3" fill="#e6e6e6" filter="url(#blur1)"/>
<rect x="419" y="751" width="339" height="3.6" fill="#d9d9d9" filter="url(#blur1)"/>
<rect x="418.5" y="391.5" width="338.8" height="360.8" fill="#fff"/>
<polygon points="566,451.5 590,440.3 600.3,489.3 596,496 566,503" fill="url(#gDuctL)" stroke="#666" stroke-width="0.7" stroke-linejoin="round" />
<polygon points="590,440.3 608.4,452.8 615.2,486 600.3,490.5" fill="#a6a6a6" stroke="#555" stroke-width="0.7" stroke-linejoin="round" />
<polyline points="566,482 594.5,472 611.5,468.5" fill="none" stroke="#8a8a8a" stroke-width="0.7" />
<line x1="596" y1="470" x2="601" y2="490" stroke="#8a8a8a" stroke-width="0.7" />
<polygon points="593.6,445.5 598.8,449 599.4,452.5 594.2,449.2" fill="#2a2a2a" stroke="none" stroke-width="0.8" stroke-linejoin="round" />
<polygon points="601,451.5 606.8,455.4 607.4,459.4 601.8,455.6" fill="#2a2a2a" stroke="none" stroke-width="0.8" stroke-linejoin="round" />
<path d="M474.9,545.6 Q483,537 502.5,524.4 Q535,507 583.8,495.2 Q620,486 655,479.6 Q658.5,479 660,481.5 L701.9,525.9 Q661,531 628.8,540.5 Q590,549 561,557 Q550,561 542.3,568 Z" fill="url(#gGlassL)" stroke="#555" stroke-width="0.9" />
<path d="M619,496.6 Q640,484 655,479.6 Q658.5,479 660,481.5 L701.9,525.9 Q680,528 661.5,531 Z" fill="url(#gGlassR)" stroke="none" stroke-width="0.8" />
<path d="M615,487 Q640,482 655,479.6 Q658.5,479 660,481.5 L701.9,525.9" fill="none" stroke="#555" stroke-width="1" />
<path d="M548,505.5 Q600,491 655,479.6 Q657,479.3 658.5,480.2 L619,496.6 Q580,503.5 540,517 Z" fill="url(#gStrip)" stroke="none" stroke-width="0.8" />
<path d="M509.8,535 Q555,509 619,496.6 L660.4,530 L654.8,529.2 L620.6,499.3 Q560,512 513,535.8 Z" fill="#d2d2d8" stroke="#8a8a8a" stroke-width="0.5" />
<path d="M514,536 Q562,512 619.5,499.2 L659,529.3 Q612,539 578,553.8 Z" fill="#bfbfbf" stroke="#6a6a6a" stroke-width="0.7" />
<polygon points="552.8,534.6 603.5,517.1 633.3,536.4 582.5,548.6" fill="#3c3c3c" stroke="#222" stroke-width="0.6" stroke-linejoin="round" />
<polygon points="572.9,536.4 600,527.6 621,536.4 594.8,545.1" fill="#0e0e0e" stroke="none" stroke-width="0.8" stroke-linejoin="round" />
<line x1="553.5" y1="535.8" x2="583" y2="550.2" stroke="#a8a8a8" stroke-width="1.3" />
<line x1="583" y1="550.2" x2="633" y2="537.6" stroke="#b0b0b0" stroke-width="1.1" />
<ellipse cx="544.9" cy="531.1" rx="7" ry="3.4" fill="#9c9c9c" stroke="#6c6c6c" stroke-width="0.6"/>
<ellipse cx="544.9" cy="531.1" rx="4.6" ry="2.1" fill="#f4f4f4"/>
<ellipse cx="590.4" cy="515.4" rx="7" ry="3.4" fill="#9c9c9c" stroke="#6c6c6c" stroke-width="0.6"/>
<ellipse cx="590.4" cy="515.4" rx="4.6" ry="2.1" fill="#f4f4f4"/>
<line x1="552.8" y1="519" x2="570.2" y2="514.4" stroke="#4a4a4a" stroke-width="2.2" />
<polygon points="554.5,579.3 621.9,563.5 657.8,578.4 595.6,590.6" fill="#242424" stroke="#858585" stroke-width="1.1" stroke-linejoin="round" />
<line x1="571" y1="581.8" x2="586" y2="585" stroke="#555" stroke-width="1" />
<line x1="566.5" y1="419.5" x2="592.5" y2="403.5" stroke="#5a5a5a" stroke-width="2.6" stroke-linecap="round"/>
<line x1="567" y1="419.2" x2="592" y2="403.8" stroke="#e8e8e8" stroke-width="1.1" stroke-linecap="round"/>
<circle cx="565.6" cy="420.2" r="1.7" fill="#fff" stroke="#555" stroke-width="0.8"/>
<circle cx="593.2" cy="403" r="1.7" fill="#fff" stroke="#555" stroke-width="0.8"/>
<text x="463.8" y="440" font-size="5.8" font-weight="bold" fill="#303030" textLength="9.2" lengthAdjust="spacingAndGlyphs">01</text>
<text x="463.8" y="458" font-size="5.8" font-weight="bold" fill="#303030" textLength="9.2" lengthAdjust="spacingAndGlyphs">02</text>
<text x="463.8" y="483.8" font-size="5.8" font-weight="bold" fill="#303030" textLength="9.2" lengthAdjust="spacingAndGlyphs">03</text>
<text x="463.8" y="502" font-size="5.8" font-weight="bold" fill="#303030" textLength="9.2" lengthAdjust="spacingAndGlyphs">04</text>
<text x="463.8" y="522.5" font-size="5.8" font-weight="bold" fill="#303030" textLength="9.2" lengthAdjust="spacingAndGlyphs">05</text>
<line x1="475" y1="438" x2="576" y2="467.5" stroke="#606060" stroke-width="0.85" />
<line x1="475" y1="456" x2="576" y2="490" stroke="#606060" stroke-width="0.85" />
<line x1="475" y1="482.5" x2="561" y2="516" stroke="#606060" stroke-width="0.85" />
<line x1="475" y1="500.5" x2="542.5" y2="530" stroke="#606060" stroke-width="0.85" />
<line x1="475" y1="521" x2="500" y2="541" stroke="#606060" stroke-width="0.85" />
<text x="688" y="411.8" font-size="5.8" font-weight="bold" fill="#303030" textLength="9.2" lengthAdjust="spacingAndGlyphs">10</text>
<text x="688" y="427" font-size="5.8" font-weight="bold" fill="#303030" textLength="9.2" lengthAdjust="spacingAndGlyphs">09</text>
<text x="688" y="537.3" font-size="5.8" font-weight="bold" fill="#303030" textLength="9.2" lengthAdjust="spacingAndGlyphs">08</text>
<text x="688" y="549" font-size="5.8" font-weight="bold" fill="#303030" textLength="9.2" lengthAdjust="spacingAndGlyphs">07</text>
<text x="688" y="592.5" font-size="5.8" font-weight="bold" fill="#303030" textLength="9.2" lengthAdjust="spacingAndGlyphs">06</text>
<line x1="685" y1="409.5" x2="588.5" y2="408.8" stroke="#606060" stroke-width="0.85" />
<line x1="685" y1="426" x2="602.5" y2="447" stroke="#606060" stroke-width="0.85" />
<line x1="686" y1="535.5" x2="660" y2="532" stroke="#606060" stroke-width="0.85" />
<line x1="686" y1="547" x2="627.5" y2="540" stroke="#606060" stroke-width="0.85" />
<line x1="686" y1="590" x2="646" y2="581" stroke="#606060" stroke-width="0.85" />
<text x="472" y="626" font-size="8.4" fill="#7a7a7a" font-weight="bold" textLength="152.5" lengthAdjust="spacingAndGlyphs">LEGENDA DOS COMPONENTES</text>
<line x1="472" y1="627.6" x2="624.5" y2="627.6" stroke="#7a7a7a" stroke-width="0.8" />
<text x="472" y="637.5" font-size="8.4" font-weight="bold" fill="#7a7a7a" textLength="95.5" lengthAdjust="spacingAndGlyphs">01 DUTO SUPERIOR</text>
<text x="472" y="649.0" font-size="8.4" font-weight="bold" fill="#7a7a7a" textLength="91" lengthAdjust="spacingAndGlyphs">02 DUTO INFERIOR</text>
<text x="472" y="660.5" font-size="8.4" font-weight="bold" fill="#7a7a7a" textLength="117.5" lengthAdjust="spacingAndGlyphs">03 PAINEL DE FUNÇÕES</text>
<text x="472" y="672.0" font-size="8.4" font-weight="bold" fill="#7a7a7a" textLength="102" lengthAdjust="spacingAndGlyphs">04 LÂMPADA DE LED</text>
<text x="472" y="683.5" font-size="8.4" font-weight="bold" fill="#7a7a7a" textLength="234" lengthAdjust="spacingAndGlyphs">05 VIDRO TEMPERADO COM 0,6 CM ESPESSURA</text>
<text x="472" y="695.0" font-size="8.4" font-weight="bold" fill="#7a7a7a" textLength="117" lengthAdjust="spacingAndGlyphs">06 FILTRO DE ALUMÍNIO</text>
<text x="472" y="706.5" font-size="8.4" font-weight="bold" fill="#7a7a7a" textLength="158.5" lengthAdjust="spacingAndGlyphs">07 FILTRO DE CARVÃO ATIVADO</text>
<text x="472" y="718.0" font-size="8.4" font-weight="bold" fill="#7a7a7a" textLength="40.5" lengthAdjust="spacingAndGlyphs">08 BASE</text>
<text x="472" y="729.5" font-size="8.4" font-weight="bold" fill="#7a7a7a" textLength="77" lengthAdjust="spacingAndGlyphs">09 SAÍDA DE AR</text>
<text x="472" y="741.0" font-size="8.4" font-weight="bold" fill="#7a7a7a" textLength="148" lengthAdjust="spacingAndGlyphs">10 SUPORTE DE &#160;INSTALAÇÃO</text>
<text x="417.5" y="773.5" font-size="8" fill="#7a7a7a" font-weight="bold" stroke="#7a7a7a" stroke-width="0.28" textLength="336.5" lengthAdjust="spacingAndGlyphs" >COIFA 60 E 70 CM INDICADA PARA FOGÃO/COOKTOP DE 4 BOCAS</text>
</svg>
</body></html>
